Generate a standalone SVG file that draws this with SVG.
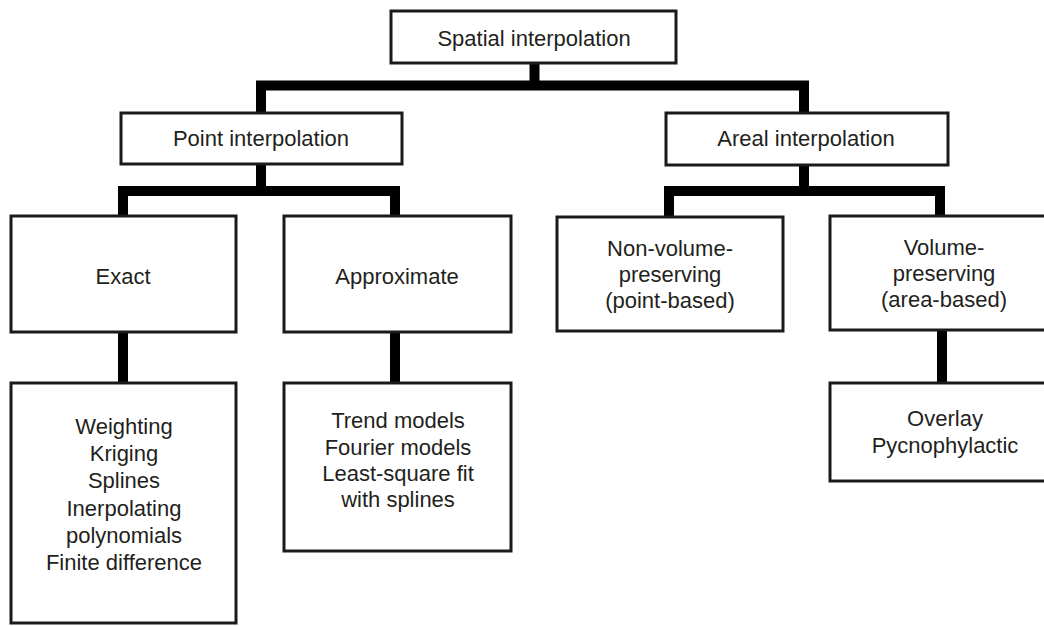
<svg xmlns="http://www.w3.org/2000/svg" width="1044" height="626" viewBox="0 0 1044 626">
  <style>
    .box { fill: #ffffff; stroke: #1a1a1a; stroke-width: 3; }
    .lbl { font-family: "Liberation Sans", Arial, sans-serif; font-size: 22px; fill: #231f20; text-anchor: middle; }
    .link { fill: none; stroke: #000000; stroke-width: 10; stroke-linejoin: miter; stroke-linecap: butt; }
  </style>
  <rect width="1044" height="626" fill="#ffffff"/>

  <!-- tree connectors -->
  <g id="connectors">
    <path class="link" d="M534.5,62 V85.5"/>
    <path class="link" d="M261,112 V85.5 H804 V112"/>
    <path class="link" d="M261,164 V191"/>
    <path class="link" d="M123,216 V191 H395 V216"/>
    <path class="link" d="M804,164 V191"/>
    <path class="link" d="M669,216 V191 H940 V216"/>
    <path class="link" d="M123,332 V383"/>
    <path class="link" d="M395,332 V383"/>
    <path class="link" d="M942,330 V383"/>
  </g>

  <g id="spatial">
    <rect class="box" x="391" y="11" width="285" height="52"/>
    <text class="lbl" x="534" y="46">Spatial interpolation</text>
  </g>

  <g id="point">
    <rect class="box" x="121" y="113" width="281" height="51"/>
    <text class="lbl" x="261" y="146">Point interpolation</text>
  </g>

  <g id="areal">
    <rect class="box" x="666" y="113" width="282" height="52"/>
    <text class="lbl" x="806" y="146">Areal interpolation</text>
  </g>

  <g id="exact">
    <rect class="box" x="11" y="216" width="225" height="116"/>
    <text class="lbl" x="123" y="284">Exact</text>
  </g>

  <g id="approximate">
    <rect class="box" x="284" y="216" width="227" height="116"/>
    <text class="lbl" x="397" y="284">Approximate</text>
  </g>

  <g id="non-volume">
    <rect class="box" x="557" y="217" width="226" height="114"/>
    <text class="lbl" x="670" y="256">Non-volume-</text>
    <text class="lbl" x="670" y="282">preserving</text>
    <text class="lbl" x="670" y="308">(point-based)</text>
  </g>

  <g id="volume">
    <rect class="box" x="830" y="216" width="230" height="114"/>
    <text class="lbl" x="944" y="255">Volume-</text>
    <text class="lbl" x="944" y="281">preserving</text>
    <text class="lbl" x="944" y="307">(area-based)</text>
  </g>

  <g id="exact-methods">
    <rect class="box" x="11" y="383" width="225" height="240"/>
    <text class="lbl" x="124" y="434">Weighting</text>
    <text class="lbl" x="124" y="461">Kriging</text>
    <text class="lbl" x="124" y="488">Splines</text>
    <text class="lbl" x="124" y="516">Inerpolating</text>
    <text class="lbl" x="124" y="543">polynomials</text>
    <text class="lbl" x="124" y="570">Finite difference</text>
  </g>

  <g id="approximate-methods">
    <rect class="box" x="284" y="383" width="227" height="168"/>
    <text class="lbl" x="398" y="428">Trend models</text>
    <text class="lbl" x="398" y="455">Fourier models</text>
    <text class="lbl" x="398" y="481">Least-square fit</text>
    <text class="lbl" x="398" y="507">with splines</text>
  </g>

  <g id="volume-methods">
    <rect class="box" x="830" y="383" width="230" height="98"/>
    <text class="lbl" x="945" y="426">Overlay</text>
    <text class="lbl" x="945" y="453">Pycnophylactic</text>
  </g>
</svg>
